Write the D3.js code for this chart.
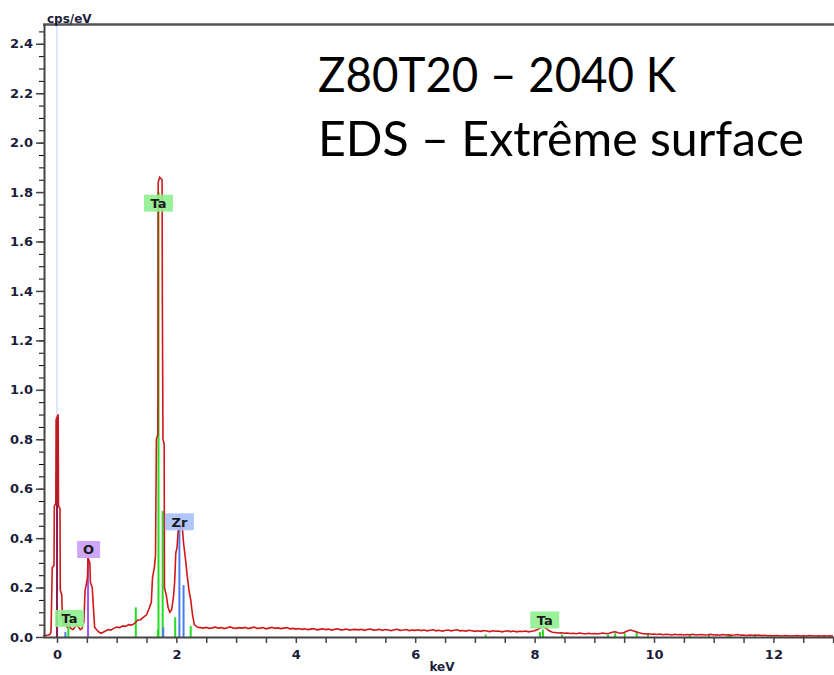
<!DOCTYPE html>
<html>
<head>
<meta charset="utf-8">
<script src="https://cdn.jsdelivr.net/npm/d3@7"></script>
<style>
  body { margin: 0; background: #fff; }
  svg { display: block; }
</style>
</head>
<body>
<script>
// spectrum, low energy part (keV / cps per eV)
var peakE = [-0.23, -0.15, -0.12, -0.10, -0.08, -0.05, -0.045, -0.02, -0.015, 0.02, 0.025, 0.05, 0.055, 0.08, 0.09, 0.11,
    0.14, 0.17, 0.20, 0.23, 0.27, 0.30, 0.33, 0.36, 0.39, 0.42, 0.45, 0.47, 0.49, 0.51, 0.52, 0.55, 0.56, 0.59, 0.61, 0.63,
    0.66, 0.70, 0.74, 0.78, 0.82, 0.86, 0.90, 0.95, 1.00, 1.05, 1.10, 1.15, 1.20, 1.25, 1.30, 1.35, 1.40, 1.45, 1.50, 1.55,
    1.58, 1.60, 1.63, 1.65, 1.665, 1.69, 1.695, 1.72, 1.76, 1.765, 1.775, 1.795, 1.80, 1.83, 1.86, 1.89, 1.92, 1.95, 1.97,
    1.99, 2.01, 2.03, 2.07, 2.10, 2.12, 2.15, 2.18, 2.21, 2.24, 2.27, 2.30, 2.35];
var peakC = [0.005, 0.008, 0.010, 0.020, 0.28, 0.29, 0.53, 0.54, 0.88, 0.90, 0.53, 0.52, 0.19, 0.17, 0.08, 0.05,
    0.06, 0.04, 0.05, 0.035, 0.03, 0.04, 0.05, 0.04, 0.03, 0.035, 0.06, 0.19, 0.21, 0.24, 0.32, 0.30, 0.22, 0.20, 0.12, 0.04,
    0.03, 0.02, 0.015, 0.02, 0.025, 0.03, 0.028, 0.035, 0.04, 0.038, 0.045, 0.043, 0.05, 0.048, 0.055, 0.068, 0.07, 0.08, 0.09, 0.12,
    0.14, 0.24, 0.28, 0.33, 0.80, 0.82, 1.84, 1.86, 1.85, 1.35, 0.80, 0.78, 0.20, 0.17, 0.12, 0.10, 0.11, 0.16, 0.22,
    0.34, 0.36, 0.43, 0.45, 0.44, 0.38, 0.32, 0.25, 0.19, 0.15, 0.09, 0.05, 0.04];

// background channels from 2.40 keV, every 0.05 keV
var bgStart = 2.4, bgStep = 0.05;
var bgC = [0.038, 0.036, 0.039, 0.035, 0.037, 0.040, 0.036, 0.038, 0.034, 0.037, 0.041, 0.036, 0.035,
    0.038, 0.036, 0.039, 0.034, 0.037, 0.040, 0.035, 0.036, 0.038, 0.033, 0.036, 0.039, 0.035, 0.037, 0.034, 0.036, 0.038, 0.033, 0.035, 0.032,
    0.034, 0.031, 0.033, 0.030, 0.032, 0.034, 0.029, 0.031, 0.033, 0.030, 0.032, 0.028, 0.031, 0.033, 0.029, 0.030, 0.032, 0.028, 0.030, 0.031,
    0.029, 0.031, 0.027, 0.030, 0.032, 0.028, 0.029, 0.031, 0.027, 0.030, 0.028, 0.026, 0.029, 0.031, 0.027, 0.028, 0.030, 0.026, 0.028, 0.027,
    0.029, 0.026, 0.028, 0.025, 0.027, 0.029, 0.025, 0.027, 0.024, 0.026, 0.028, 0.025, 0.027, 0.029, 0.025, 0.026, 0.024, 0.027, 0.025, 0.023,
    0.025, 0.023, 0.026, 0.024, 0.022, 0.025, 0.023, 0.024, 0.021, 0.023, 0.025, 0.022, 0.024, 0.021, 0.023, 0.022, 0.024, 0.021, 0.023, 0.025,
    0.030, 0.038, 0.040, 0.034, 0.024, 0.019, 0.018, 0.016, 0.017, 0.015, 0.016, 0.014, 0.015, 0.013, 0.016, 0.014, 0.012, 0.015, 0.013, 0.014,
    0.012, 0.014, 0.016, 0.013, 0.015, 0.019, 0.021, 0.017, 0.015, 0.018, 0.024, 0.028, 0.025, 0.021, 0.017, 0.014, 0.012, 0.013, 0.011, 0.012,
    0.010, 0.012, 0.009, 0.011, 0.010, 0.008, 0.011, 0.009, 0.010, 0.008, 0.010, 0.009, 0.011, 0.008, 0.009, 0.010, 0.008, 0.009, 0.011, 0.008,
    0.009, 0.007, 0.010, 0.008, 0.009, 0.007, 0.008, 0.010, 0.007, 0.008, 0.006, 0.008, 0.007, 0.006, 0.008, 0.006, 0.007, 0.005, 0.006, 0.005,
    0.006, 0.005, 0.004, 0.006, 0.005, 0.004, 0.005, 0.006, 0.004, 0.005, 0.004, 0.006, 0.005, 0.004, 0.005, 0.004, 0.005, 0.004, 0.005, 0.004];

// element marker lines
var markerE  = [0.00, 0.14, 0.19, 0.52, 1.32, 1.69, 1.70, 1.77, 1.78, 1.98, 2.05, 2.12, 2.24,
    7.18, 8.09, 8.14, 8.46, 9.23, 9.35, 9.51, 9.71, 9.90, 10.60, 10.92, 11.25, 11.29, 11.69];
var markerH  = [0.88, 0.02, 0.04, 0.32, 0.12, 0.03, 1.80, 0.51, 0.04, 0.08, 0.44, 0.21, 0.045,
    0.010, 0.020, 0.030, 0.010, 0.010, 0.015, 0.015, 0.020, 0.010, 0.010, 0.010, 0.010, 0.010, 0.012];
var markerEl = ["strobe", "Zr", "Ta", "O", "Ta", "Ta", "Ta", "Ta", "Zr", "Ta", "Zr", "Zr", "Ta",
    "Ta", "Ta", "Ta", "Ta", "Ta", "Ta", "Ta", "Ta", "Ta", "Ta", "Ta", "Ta", "Ta", "Ta"];

// peak labels
var labelText = ["Ta", "Zr", "O", "Ta", "Ta"];
var labelE    = [1.70, 2.05, 0.53, 0.21, 8.17];
var labelY    = [1.755, 0.466, 0.354, 0.075, 0.069];

var xTicks = d3.range(0, 13.01, 0.5);
var yMajor = d3.range(0, 2.41, 0.2);
var yMinor = d3.range(0, 2.46, 0.05);

var elColor = { Ta: "#22dd22", Zr: "#4a7cf0", O: "#a455f5", strobe: "#8a1d55" };
var boxColor = { Ta: "#8ff08f", Zr: "#a9c0f7", O: "#c89cf7" };

var W = 834, H = 675;
var svg = d3.select("body").append("svg")
    .attr("width", W)
    .attr("height", H);

var x = d3.scaleLinear().domain([-0.2345, 13.015]).range([43, 834]);
var y = d3.scaleLinear().domain([0, 2.48]).range([637, 24]);

var spectrum = peakE.map(function(e, i){ return [e, peakC[i]]; })
    .concat(bgC.map(function(c, i){ return [bgStart + i * bgStep, c]; }));

var tickFont = "'DejaVu Sans', Verdana, sans-serif";

// zero line
svg.append("line")
    .attr("x1", x(0)).attr("x2", x(0))
    .attr("y1", y.range()[1]).attr("y2", y(0))
    .attr("stroke", "#dfe6fb")
    .attr("stroke-width", 2);

// marker lines
svg.append("g").selectAll("line")
    .data(markerE)
    .join("line")
    .attr("x1", function(d){ return x(d); })
    .attr("x2", function(d){ return x(d); })
    .attr("y1", y(0))
    .attr("y2", function(d, i){ return y(markerH[i]); })
    .attr("stroke", function(d, i){ return elColor[markerEl[i]]; })
    .attr("stroke-width", 2);

// spectrum
svg.append("path")
    .datum(spectrum)
    .attr("fill", "none")
    .attr("stroke", "#d01818")
    .attr("stroke-width", 1.6)
    .attr("d", d3.line()
        .x(function(d){ return x(d[0]); })
        .y(function(d){ return y(d[1]); }));

// top border
svg.append("line")
    .attr("x1", 43).attr("x2", W)
    .attr("y1", 24.5).attr("y2", 24.5)
    .attr("stroke", "#555")
    .attr("stroke-width", 2.5);

// y axis, minor then major
svg.append("g")
    .attr("transform", "translate(44,0)")
    .call(d3.axisLeft(y).tickValues(yMinor).tickSize(5).tickSizeOuter(0).tickFormat(""))
    .call(function(g){ g.select(".domain").remove(); });

var gy = svg.append("g")
    .attr("transform", "translate(44,0)")
    .call(d3.axisLeft(y).tickValues(yMajor).tickSize(8).tickSizeOuter(0).tickFormat(d3.format(".1f")));
gy.select(".domain").attr("stroke", "#444").attr("stroke-width", 2);

// x axis
var gx = svg.append("g")
    .attr("transform", "translate(0,637)")
    .call(d3.axisBottom(x).tickValues(xTicks).tickSize(6).tickSizeOuter(0)
        .tickFormat(function(d){ return d % 2 === 0 ? d : ""; }));
gx.select(".domain").attr("stroke", "#444").attr("stroke-width", 2);

[gx, gy].forEach(function(g){
    g.selectAll(".tick line").attr("stroke", "#444").attr("stroke-width", 1.5);
    g.selectAll("text")
        .attr("fill", "#1b1d3a")
        .style("font-family", tickFont)
        .style("font-weight", "bold")
        .style("font-size", "13px");
});
gy.selectAll("text").attr("x", -11);
gx.selectAll("text").attr("y", 13);

// axis titles
svg.append("text")
    .attr("x", 47).attr("y", 23)
    .attr("fill", "#1b1d3a")
    .style("font-family", tickFont).style("font-weight", "bold").style("font-size", "12px")
    .text("cps/eV");
svg.append("text")
    .attr("x", 442).attr("y", 671)
    .attr("text-anchor", "middle")
    .attr("fill", "#1b1d3a")
    .style("font-family", tickFont).style("font-weight", "bold").style("font-size", "12px")
    .text("keV");

// peak labels
var lab = svg.append("g").selectAll("g")
    .data(labelText)
    .join("g")
    .attr("transform", function(d, i){ return "translate(" + x(labelE[i]) + "," + y(labelY[i]) + ")"; });
lab.append("rect")
    .attr("x", function(d){ return d.length > 1 ? -14.5 : -11.5; })
    .attr("y", -8.5)
    .attr("width", function(d){ return d.length > 1 ? 29 : 23; })
    .attr("height", 17)
    .attr("fill", function(d){ return boxColor[d]; })
    .attr("opacity", 0.9);
lab.append("text")
    .attr("text-anchor", "middle")
    .attr("y", 5)
    .attr("fill", "#1a1a1a")
    .style("font-family", tickFont).style("font-weight", "bold").style("font-size", "13px")
    .text(function(d){ return d; });

// title
var titleFont = "Lato, 'Open Sans', sans-serif";
svg.append("text")
    .attr("x", 318).attr("y", 92)
    .attr("textLength", 358).attr("lengthAdjust", "spacingAndGlyphs")
    .attr("fill", "#000")
    .style("font-family", titleFont).style("font-size", "48px")
    .text("Z80T20 – 2040 K");
svg.append("text")
    .attr("x", 318).attr("y", 156)
    .attr("textLength", 486).attr("lengthAdjust", "spacingAndGlyphs")
    .attr("fill", "#000")
    .style("font-family", titleFont).style("font-size", "48px")
    .text("EDS – Extrême surface");
</script>
</body>
</html>
